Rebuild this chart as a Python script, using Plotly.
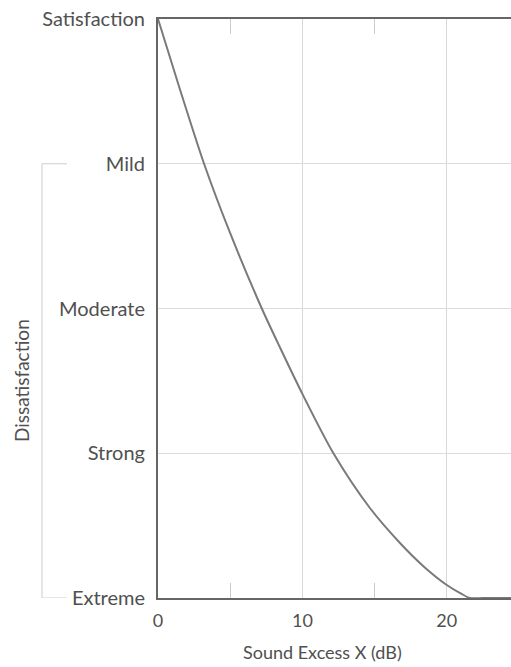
import plotly.graph_objects as go

# Data
excess_db = [0, 1.5, 3.19, 5.0, 7.19, 8.5, 10.0, 12.15, 14.69, 16.76, 18.38, 20.0, 21.0, 21.6, 22.5, 24.5]
dissatisfaction = [0, 0.48, 1.0, 1.48, 2.0, 2.28, 2.59, 3.0, 3.38, 3.62, 3.78, 3.91, 3.97, 4.0, 4.0, 4.0]

level_vals = [0, 1, 2, 3, 4]
level_labels = ["Satisfaction", "Mild", "Moderate", "Strong", "Extreme"]
x_tick_vals = [0, 10, 20]
x_tick_text = ["0", "10", "20"]
x_minor_vals = [5, 15]
x_range = [0, 24.45]

FONT = "Lato, 'Open Sans', sans-serif"
TXT = "#505050"

fig = go.Figure()
fig.add_trace(go.Scatter(
    x=excess_db, y=dissatisfaction, mode="lines",
    line=dict(color="#7a7a7a", width=2, shape="spline", smoothing=0.8),
    hoverinfo="skip", showlegend=False, cliponaxis=True,
))
# invisible copy to activate the top axis (minor ticks at the top edge)
fig.add_trace(go.Scatter(
    x=excess_db, y=dissatisfaction, mode="lines", xaxis="x2",
    line=dict(color="rgba(0,0,0,0)", width=0),
    hoverinfo="skip", showlegend=False,
))

fig.update_layout(
    width=511, height=667,
    margin=dict(l=158, r=0, t=19, b=69),
    paper_bgcolor="white", plot_bgcolor="white",
    font=dict(family=FONT, size=20, color=TXT),
    showlegend=False,
    xaxis=dict(
        range=x_range, tickvals=x_tick_vals, ticktext=x_tick_text,
        showgrid=True, gridcolor="#d8d8d8", gridwidth=1,
        zeroline=False, showline=True, linecolor="#666666", linewidth=2,
        mirror=True, ticks="outside", ticklen=5, tickcolor="rgba(0,0,0,0)",
        minor=dict(tickvals=x_minor_vals, ticks="inside", ticklen=15,
                   tickcolor="#cccccc", tickwidth=1, showgrid=False),
        tickfont=dict(size=18, color=TXT),
        ticklabeloverflow="allow",
    ),
    xaxis2=dict(
        range=x_range, overlaying="x", side="top",
        tickvals=[], showticklabels=False, showgrid=False, zeroline=False, showline=False,
        minor=dict(tickvals=x_minor_vals, ticks="inside", ticklen=15,
                   tickcolor="#cccccc", tickwidth=1, showgrid=False),
    ),
    yaxis=dict(
        range=[4, 0], tickvals=level_vals, ticktext=level_labels,
        showgrid=True, gridcolor="#dcdcdc", gridwidth=1,
        zeroline=False, showline=True, linecolor="#666666", linewidth=2,
        mirror=False, ticks="outside", ticklen=7, tickcolor="rgba(0,0,0,0)",
        tickfont=dict(size=20, color=TXT),
        ticklabeloverflow="allow",
    ),
)

# Axis titles
fig.add_annotation(
    text="Sound Excess X (dB)", xref="paper", yref="paper",
    x=0.465, y=-0.093, xanchor="center", yanchor="middle",
    showarrow=False, font=dict(size=18, color=TXT),
)
fig.add_annotation(
    text="Dissatisfaction", xref="paper", yref="y",
    x=-0.385, y=2.5, xanchor="center", yanchor="middle", textangle=-90,
    showarrow=False, font=dict(size=19, color=TXT),
)

# Bracket for the dissatisfaction range (Mild .. Extreme)
br = dict(color="#cccccc", width=1)
fig.add_shape(type="line", xref="paper", yref="y", x0=-0.3286, x1=-0.3286, y0=1, y1=4, line=br)
fig.add_shape(type="line", xref="paper", yref="y", x0=-0.3286, x1=-0.258, y0=1, y1=1, line=br)
fig.add_shape(type="line", xref="paper", yref="y", x0=-0.3286, x1=-0.258, y0=4, y1=4, line=br)

fig.write_html("out.html", config={"displayModeBar": False},
               post_script="document.body.style.margin='0px';")
